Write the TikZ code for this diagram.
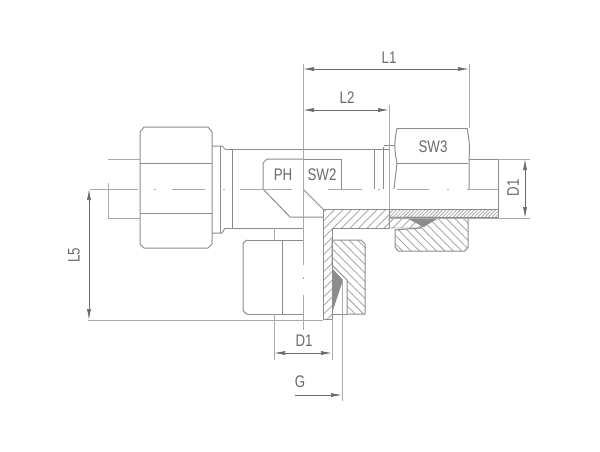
\documentclass[tikz,border=0pt]{standalone}
\usepackage{fontspec}
\setmainfont{Liberation Sans}
\usepackage{xcolor}
\usetikzlibrary{arrows.meta, calc, patterns.meta}
\definecolor{drawgrey}{RGB}{140,140,140}
\definecolor{thingrey}{RGB}{170,170,170}
\definecolor{labelgrey}{RGB}{105,105,105}
\newcommand{\dimtext}[1]{\scalebox{0.95}[1.2]{#1}}
\tikzset{
    outline/.style={drawgrey, line width=1pt, line join=round},
    thinline/.style={thingrey, line width=0.9pt},
    dimline/.style={labelgrey, line width=0.7pt, {Latex[length=11pt,width=4pt]}-{Latex[length=11pt,width=4pt]}},
    hatchleft/.style={pattern={Lines[angle=45,distance=6pt,line width=0.9pt]}, pattern color=thingrey},
    hatchright/.style={pattern={Lines[angle=-45,distance=6pt,line width=0.9pt]}, pattern color=thingrey},
    hatchfine/.style={pattern={Lines[angle=45,distance=2.5pt,line width=0.8pt]}, pattern color=thingrey},
    dimlabel/.style={text=labelgrey, font=\fontsize{14}{14}\selectfont, inner sep=0pt}
}
\begin{document}
\begin{tikzpicture}[x=1pt, y=-1pt]
    \useasboundingbox (0,0) rectangle (600,451);

    % Left nut and pipe
    \draw[outline] (144,127) -- (208,127) to[bend left=10] (212,132) -- (212,244) to[bend left=10] (208,248) -- (144,248) to[bend left=10] (140,244) -- (140,132) to[bend left=10] cycle;
    \foreach \y in {163, 213} {
        \draw[outline] (140,\y) -- (212,\y);
    }
    \draw[thinline] (108,159) -- (140,159);
    \draw[thinline] (108,218) -- (140,218);
    \draw[thinline] (108,183) -- (108,218);

    % Collar and body
    \draw[outline] (212,146) -- (222,146) -- (225,149);
    \draw[outline] (225,228) -- (222,233) -- (212,233);
    \draw[outline] (220,146) -- (220,233);
    \draw[outline] (232,149) -- (232,228);
    \draw[outline] (225,149) -- (389,149);
    \draw[outline] (225,228) -- (303,228);
    \draw[outline] (374,149) -- (374,189);
    \draw[outline] (383,147) -- (383,189);

    % Wrench flats
    \draw[outline] (303,159) -- (267,159) -- (263,163) -- (263,189) -- (290,217) -- (323,217);
    \draw[outline] (303,159) -- (341,159) -- (341,189);
    \draw[outline] (303,189) -- (323,209);

    % Right nut and pipe
    \draw[outline] (397,128) -- (467,128);
    \draw[outline] (396,163) -- (468,163);
    \draw[outline] (397,128) to[bend right=12] (397,163) -- (394,189);
    \draw[outline] (467,128) to[bend left=8] (469,159) -- (469,189);
    \draw[outline] (384,145) -- (395,145);
    \draw[outline] (469,159) -- (498,159) -- (498,216);

    % Sections
    \draw[outline, hatchleft] (323,209) -- (389,209) -- (389,228) -- (332,228) -- (332,319) -- (323,319) -- cycle;
    \draw[outline, hatchfine] (389,209) rectangle (498,217);
    \draw[thinline, hatchleft] (389,217) -- (438,217) -- (420,228) -- (389,228) -- cycle;
    \fill[drawgrey] (405,217) -- (438,217) -- (424,227) -- (414,222) -- cycle;
    \draw[outline, hatchright] (395,230) -- (420,228) -- (438,218) -- (468,218) -- (468,247) -- (465,251) -- (398,251) -- (395,247) -- cycle;
    \draw[outline, hatchright] (332,240) -- (361,240) -- (365,244) -- (365,314) -- (347,314) -- (347,280) -- (332,265) -- cycle;
    \fill[drawgrey] (332,268) -- (343,280) -- (338,295) -- (333,310) -- cycle;
    \draw[outline] (332,314) -- (347,314);

    % Lower nut
    \draw[outline] (247,240) -- (303,240);
    \draw[outline] (247,314) -- (303,314);
    \draw[outline] (247,240) to[bend right=20] (243,244) -- (243,310) to[bend right=20] (247,314);
    \draw[outline] (282,240) -- (282,314);
    \draw[thinline] (274,228) -- (274,240);

    % Centre lines
    \foreach \a/\b in {90/138, 172/205, 240/292, 328/362, 397/429, 467/498} {
        \draw[thinline] (\a,189) -- (\b,189);
    }
    \foreach \a in {154, 223, 378, 447} {
        \draw[thinline] (\a,189) -- (\a+2,189);
    }
    \draw[thinline] (303,228) -- (303,265);
    \draw[thinline] (303,277) -- (303,279);
    \draw[thinline] (303,295) -- (303,330);

    % Dimensions
    \coordinate (L1a) at (303,69);
    \coordinate (L1b) at (469,69);
    \coordinate (L2a) at (303,110);
    \coordinate (L2b) at (389,110);
    \coordinate (D1a) at (525,159);
    \coordinate (D1b) at (525,218);
    \coordinate (L5a) at (89,189);
    \coordinate (L5b) at (89,320);
    \coordinate (D1c) at (274,353);
    \coordinate (D1d) at (332,353);
    \coordinate (Ga) at (295,395);
    \coordinate (Gb) at (342,395);

    \draw[thinline] (L1a) ++(0,-5) -- (303,228);
    \draw[thinline] (L1b) ++(0,-5) -- (469,128);
    \draw[thinline] (L2b) ++(0,-5) -- (389,209);
    \draw[thinline] (498,159) -- (530,159);
    \draw[thinline] (389,218) -- (530,218);
    \draw[thinline] (88,320) -- (323,320);
    \draw[thinline] (274,314) -- (274,360);
    \draw[thinline] (332,319) -- (332,360);
    \draw[thinline] (342,280) -- (342,401);

    \draw[dimline] (L1a) -- (L1b);
    \draw[dimline] (L2a) -- (L2b);
    \draw[dimline] (D1a) -- (D1b);
    \draw[dimline] (L5a) -- (L5b);
    \draw[dimline] (D1c) -- (D1d);
    \draw[labelgrey, line width=0.7pt, -{Latex[length=11pt,width=4pt]}] (Ga) -- (Gb);

    % Labels
    \node[dimlabel] (labL1) at (389,58) {\dimtext{L1}};
    \node[dimlabel] (labL2) at (347,98) {\dimtext{L2}};
    \node[dimlabel] (labSW3) at (433,147) {\dimtext{SW3}};
    \node[dimlabel] (labPH) at (283,175) {\dimtext{PH}};
    \node[dimlabel] (labSW2) at (322,175) {\dimtext{SW2}};
    \node[dimlabel, rotate=90] (labD1r) at (513,188) {\dimtext{D1}};
    \node[dimlabel, rotate=90] (labL5) at (74,255) {\dimtext{L5}};
    \node[dimlabel] (labD1b) at (304,341) {\dimtext{D1}};
    \node[dimlabel] (labG) at (300,382) {\dimtext{G}};
\end{tikzpicture}
\end{document}
